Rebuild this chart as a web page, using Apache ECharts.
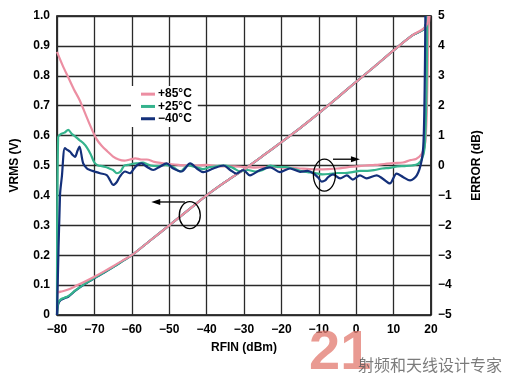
<!DOCTYPE html>
<html><head><meta charset="utf-8">
<script src="https://cdn.jsdelivr.net/npm/echarts@6/dist/echarts.min.js"></script>
<style>html,body{margin:0;padding:0;background:#fff}#c{width:512px;height:379px}</style>
</head><body><div id="c"></div>
<script>
// ---- data ----
const xTicks = [-80, -70, -60, -50, -40, -30, -20, -10, 0, 10, 20];
const vrmsTicks = [0, 0.1, 0.2, 0.3, 0.4, 0.5, 0.6, 0.7, 0.8, 0.9, 1.0];
const errTicks = [-5, -4, -3, -2, -1, 0, 1, 2, 3, 4, 5];
const seriesNames = ['+85°C', '+25°C', '−40°C'];

const rfinVrmsHot = [-80, -79, -77, -75, -72.5, -70, -67.5, -65, -62.5, -60, -55, -50, -45, -40, -35, -30, -25, -20, -15, -10, -5, 0, 5, 10, 15, 18, 19, 19.3];
const vrmsHot =     [0.075, 0.078, 0.085, 0.097, 0.112, 0.128, 0.145, 0.163, 0.182, 0.2, 0.25, 0.3, 0.35, 0.4, 0.445, 0.487, 0.532, 0.578, 0.625, 0.675, 0.727, 0.78, 0.832, 0.885, 0.935, 0.958, 0.975, 1.0];
const rfinVrmsCold = [-80, -79.7, -79, -78, -77, -75, -72.5, -70, -67.5, -65, -62.5, -60, -55, -50, -45, -40, -35, -30, -25, -20, -15, -10, -5, 0, 5, 10, 15, 18, 18.7, 19];
const vrmsRoom =     [0.0, 0.04, 0.052, 0.058, 0.063, 0.083, 0.105, 0.124, 0.142, 0.16, 0.18, 0.2, 0.25, 0.3, 0.35, 0.4, 0.445, 0.487, 0.532, 0.578, 0.625, 0.675, 0.727, 0.78, 0.832, 0.885, 0.935, 0.955, 0.975, 1.0];
const vrmsCold =     [0.0, 0.035, 0.05, 0.056, 0.061, 0.082, 0.104, 0.123, 0.141, 0.16, 0.18, 0.2, 0.25, 0.3, 0.35, 0.4, 0.445, 0.487, 0.532, 0.578, 0.625, 0.675, 0.727, 0.78, 0.832, 0.885, 0.935, 0.955, 0.975, 1.0];

const rfinErrHot = [-80, -78.5, -77, -75.5, -74, -72.5, -71, -69.5, -68, -66.5, -65, -63.5, -62, -60.5, -59, -57.5, -56, -54, -52, -50, -47.5, -45, -42.5, -40, -37.5, -35, -32.5, -30, -27.5, -25, -22.5, -20, -17.5, -15, -12.5, -10, -7.5, -5, -2.5, 0, 2.5, 5, 7.5, 10, 12.5, 14.5, 16, 17.5, 18.5, 19, 19.3, 19.6];
const errHot =     [3.8, 3.35, 2.95, 2.55, 2.2, 1.75, 1.3, 0.9, 0.65, 0.47, 0.3, 0.2, 0.16, 0.2, 0.24, 0.2, 0.2, 0.12, 0.08, 0.05, 0.02, 0.0, 0.0, 0.02, -0.02, -0.03, -0.03, -0.05, -0.07, -0.05, -0.05, -0.06, -0.08, -0.1, -0.12, -0.13, -0.12, -0.1, -0.06, -0.03, 0.0, 0.02, 0.05, 0.08, 0.1, 0.18, 0.22, 0.38, 0.8, 2.5, 4.5, 5];

const rfinErrRoom = [-80, -79.7, -79, -78, -77, -76, -75, -74, -73, -72, -71, -70, -69, -68, -67, -66, -65, -64, -63, -62, -61, -60, -58, -57, -56, -55, -53, -51, -49, -47, -45, -43, -41, -39, -37, -35, -33, -31, -29, -27, -25, -23, -21, -19, -17, -15, -13, -11, -9, -7, -5, -3, -1, 1, 3, 5, 7, 9, 11, 13, 15, 16.5, 17.5, 18.3, 18.8, 19.0];
const errRoom =     [-5, 0.95, 1.05, 1.1, 1.19, 1.05, 0.96, 0.85, 0.75, 0.6, 0.38, 0.1, 0.0, -0.02, -0.05, -0.1, -0.15, -0.26, -0.2, 0.0, 0.02, 0.05, 0.08, 0.1, 0.05, 0.0, -0.02, 0.02, -0.05, -0.2, 0.0, -0.05, -0.12, -0.05, -0.02, 0.0, -0.08, -0.2, -0.15, -0.2, -0.15, 0.0, -0.05, -0.05, -0.1, -0.18, -0.22, -0.25, -0.3, -0.28, -0.25, -0.25, -0.22, -0.18, -0.18, -0.15, -0.1, -0.08, -0.03, -0.02, 0.0, 0.05, 0.2, 0.6, 2.5, 5];

const rfinErrCold = [-80, -79.2, -78.7, -77.9, -77.2, -76.5, -75.8, -75.2, -74.5, -74, -73, -72, -71.2, -70, -68.5, -66.7, -65.8, -65, -64, -63.2, -61.8, -60.5, -59.5, -58.7, -57.4, -56, -54.3, -52.5, -50.7, -48.9, -46.7, -44.4, -42.6, -40.9, -38.2, -35.5, -33.7, -32, -30.2, -28.4, -25.7, -23, -20.4, -17.7, -15, -13, -11.5, -10.2, -9.2, -8.3, -7.5, -6.2, -4.3, -2.5, -0.9, 1.0, 2.8, 5.5, 7.2, 9.0, 10.8, 12.6, 14.4, 16.2, 17.5, 18.0, 18.3, 18.5];
const errCold =     [-5, -1, -0.37, 0.58, 0.52, 0.46, 0.35, 0.29, 0.5, 0.63, 0.07, -0.1, -0.15, -0.2, -0.26, -0.32, -0.5, -0.65, -0.55, -0.37, -0.2, -0.26, -0.12, 0.0, 0.07, -0.04, -0.15, -0.04, 0.07, -0.1, -0.2, 0.07, -0.1, -0.22, -0.1, 0.0, -0.15, -0.27, -0.15, -0.33, -0.15, -0.06, -0.22, -0.1, -0.21, -0.18, -0.26, -0.4, -0.54, -0.5, -0.39, -0.3, -0.43, -0.33, -0.47, -0.33, -0.43, -0.33, -0.45, -0.6, -0.27, -0.39, -0.5, -0.33, 0.17, 0.8, 2.5, 5];

// annotation anchors in data units [rfin, vrms]
const ellipseLeft = [-44.5, 0.334];
const arrowLeft = [[-45.8, 0.378], [-54.8, 0.378]];
const ellipseRight = [-8.5, 0.468];
const arrowRight = [[-6.2, 0.521], [1.0, 0.521]];

const colors = ['#ec8ea2', '#35b38d', '#14307a'];
const zip = (xs, ys) => xs.map((x, i) => [x, ys[i]]);
const minus = v => v < 0 ? '−' + Math.abs(v) : String(v);
const lbl = {color: '#000', fontFamily: 'Liberation Sans, Arial', fontWeight: 'bold', fontSize: 12};

const chart = echarts.init(document.getElementById('c'), null, {renderer: 'canvas'});
const lineS = (name, data, yi, ci, z) => ({
  name, type: 'line', data, yAxisIndex: yi, showSymbol: false, symbol: 'none',
  smooth: 0.3, lineStyle: {width: 2.2, color: colors[ci]}, itemStyle: {color: colors[ci]}, z, animation: false
});

chart.setOption({
  animation: false,
  grid: {left: 57, right: 81, top: 16, bottom: 64, show: true, borderColor: '#000', borderWidth: 1.6, backgroundColor: 'transparent'},
  legend: {
    data: seriesNames, orient: 'vertical', left: 131, top: 86, backgroundColor: '#fff',
    padding: [2, 6, 2, 10], itemGap: 0, itemWidth: 14, itemHeight: 3, icon: 'rect',
    textStyle: Object.assign({}, lbl, {lineHeight: 12.3, padding: [0, 0, 0, -2]})
  },
  xAxis: {
    type: 'value', min: -80, max: 20, interval: 10,
    name: 'RFIN (dBm)', nameLocation: 'middle', nameGap: 27, nameTextStyle: lbl,
    axisLine: {show: false}, axisTick: {show: false},
    axisLabel: Object.assign({}, lbl, {margin: 9, formatter: minus}),
    splitLine: {show: true, lineStyle: {color: '#2a2a2a', width: 1.3}}
  },
  yAxis: [{
    type: 'value', min: 0, max: 1, interval: 0.1,
    name: 'VRMS (V)', nameLocation: 'middle', nameGap: 36, nameRotate: 90, nameTextStyle: lbl,
    axisLine: {show: false}, axisTick: {show: false},
    axisLabel: Object.assign({}, lbl, {margin: 7, formatter: v => v === 0 ? '0' : v.toFixed(1)}),
    splitLine: {show: true, lineStyle: {color: '#2a2a2a', width: 1.3}}
  }, {
    type: 'value', min: -5, max: 5, interval: 1, position: 'right',
    name: 'ERROR (dB)', nameLocation: 'middle', nameGap: 40, nameRotate: 90, nameTextStyle: lbl,
    axisLine: {show: false}, axisTick: {show: false},
    axisLabel: Object.assign({}, lbl, {margin: 7, formatter: minus}),
    splitLine: {show: false}
  }],
  series: [
    lineS(seriesNames[2], zip(rfinVrmsCold, vrmsCold), 0, 2, 3),
    lineS(seriesNames[1], zip(rfinVrmsCold, vrmsRoom), 0, 1, 4),
    lineS(seriesNames[0], zip(rfinVrmsHot, vrmsHot), 0, 0, 5),
    lineS(seriesNames[0], zip(rfinErrHot, errHot), 1, 0, 3),
    lineS(seriesNames[1], zip(rfinErrRoom, errRoom), 1, 1, 4),
    lineS(seriesNames[2], zip(rfinErrCold, errCold), 1, 2, 5)
  ]
});

// annotations placed via the chart's own scales
const px = p => chart.convertToPixel({xAxisIndex: 0, yAxisIndex: 0}, p);
function arrow(a, b) {
  const A = px(a), B = px(b);
  const dir = Math.sign(B[0] - A[0]);
  return [
    {type: 'line', shape: {x1: A[0], y1: A[1], x2: B[0] - dir * 6, y2: B[1]}, style: {stroke: '#000', lineWidth: 1.3}, z: 100},
    {type: 'polygon', shape: {points: [[B[0], B[1]], [B[0] - dir * 9, B[1] - 3], [B[0] - dir * 9, B[1] + 3]]}, style: {fill: '#000'}, z: 100}
  ];
}
const eL = px(ellipseLeft), eR = px(ellipseRight);
chart.setOption({
  graphic: [
    {type: 'ellipse', shape: {cx: eL[0], cy: eL[1], rx: 10.5, ry: 13.5}, style: {fill: 'none', stroke: '#000', lineWidth: 1.3}, z: 100},
    {type: 'ellipse', shape: {cx: eR[0], cy: eR[1], rx: 11, ry: 16}, style: {fill: 'none', stroke: '#000', lineWidth: 1.3}, z: 100},
    ...arrow(arrowLeft[0], arrowLeft[1]),
    ...arrow(arrowRight[0], arrowRight[1]),
    {type: 'text', left: 309, top: 326, style: {text: '21', fill: 'rgba(226,120,110,0.75)', font: 'bold 56px Liberation Sans, Arial'}, z: 50},
    {type: 'text', left: 358, top: 357, style: {text: '射频和天线设计专家', fill: 'rgba(90,90,90,0.8)', font: '16px Noto Sans CJK SC'}, z: 50}
  ]
});
</script></body></html>
